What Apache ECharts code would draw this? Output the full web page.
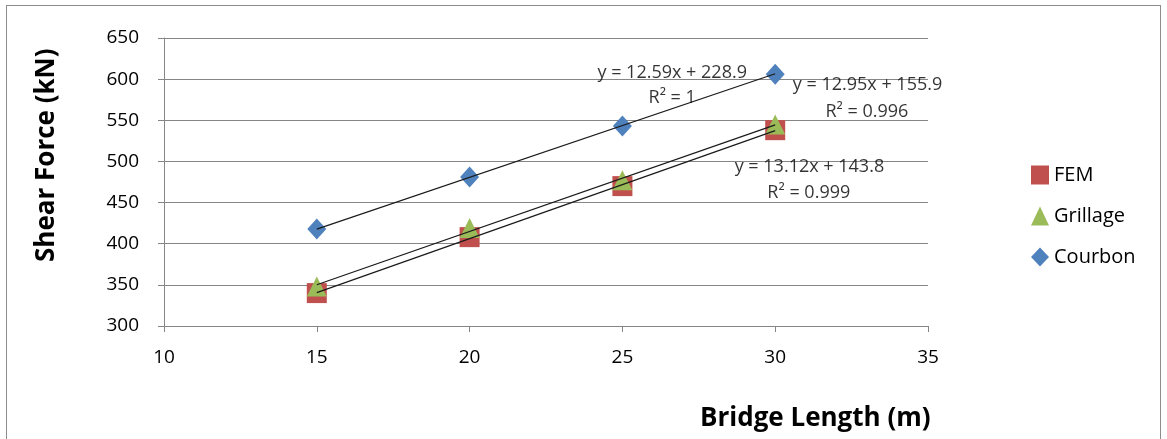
<!DOCTYPE html>
<html>
<head>
<meta charset="utf-8">
<script src="https://cdn.jsdelivr.net/npm/echarts@6/dist/echarts.min.js"></script>
<style>
  body { margin: 0; background: #fff; }
  .frame { position: absolute; left: 6px; top: 5px; width: 1153px; height: 450px; border: 1px solid #8c8c8c; }
  #chart { position: absolute; left: 0; top: 0; width: 1167px; height: 439px; }
</style>
</head>
<body>
<div class="frame"></div>
<div id="chart"></div>
<script>
// bridge lengths (m)
var lengths = [15, 20, 25, 30]
// shear force (kN)
var fem = [340, 408, 470, 538]
var grillage = [348, 419, 477, 545]
var courbon = [418, 481, 543, 606]
// trend line coefficients as printed on the chart: [slope, intercept]
var femFit = [13.12, 143.8]
var grillageFit = [12.95, 155.9]
var courbonFit = [12.59, 228.9]
// equation labels: [x, y, text]
var eqLabels = [
  [26.63, 607.5, 'y = 12.59x + 228.9'],
  [26.63, 577, 'R² = 1'],
  [33.02, 593, 'y = 12.95x + 155.9'],
  [33.0, 560, 'R² = 0.996'],
  [31.12, 493, 'y = 13.12x + 143.8'],
  [31.1, 461.5, 'R² = 0.999']
]

function pairs (ys) {
  return lengths.map(function (x, i) { return [x, ys[i]] })
}
function trend (fit) {
  var x0 = lengths[0]
  var x1 = lengths[lengths.length - 1]
  return [[x0, fit[0] * x0 + fit[1]], [x1, fit[0] * x1 + fit[1]]]
}

var font = '"Open Sans", "Liberation Sans", sans-serif'
var myChart = echarts.init(document.getElementById('chart'))

var lineStyle = { color: '#1a1a1a', width: 1.2 }
var option = {
  animation: false,
  textStyle: { fontFamily: font },
  grid: { left: 164, top: 38, width: 764, height: 288 },
  legend: {
    data: ['FEM', 'Grillage', 'Courbon'],
    orient: 'vertical',
    left: 1026,
    top: 160,
    itemGap: 21,
    itemWidth: 18,
    itemHeight: 19,
    textStyle: { fontSize: 20, color: '#000', fontFamily: font }
  },
  // axis titles sit off-centre in the original, so they are placed by hand
  graphic: [
    {
      type: 'text',
      left: 700,
      top: 406,
      style: { text: 'Bridge Length (m)', font: 'bold 26px "Open Sans", sans-serif', fill: '#000' }
    },
    {
      type: 'text',
      x: 34,
      y: 262,
      rotation: Math.PI / 2,
      style: { text: 'Shear Force (kN)', font: 'bold 26px "Open Sans", sans-serif', fill: '#000' }
    }
  ],
  xAxis: {
    type: 'value',
    min: 10,
    max: 35,
    interval: 5,
    axisLine: { lineStyle: { color: '#868686' } },
    axisTick: { show: true, length: 6, lineStyle: { color: '#868686' } },
    axisLabel: { fontSize: 19, color: '#000', margin: 22 },
    splitLine: { show: false }
  },
  yAxis: {
    type: 'value',
    min: 300,
    max: 650,
    interval: 50,
    axisLine: { show: true, lineStyle: { color: '#868686' } },
    axisTick: { show: true, length: 6, lineStyle: { color: '#868686' } },
    axisLabel: { fontSize: 19, color: '#000', margin: 25 },
    splitLine: { lineStyle: { color: '#868686', width: 1 } }
  },
  series: [
    {
      name: 'FEM',
      type: 'scatter',
      symbol: 'rect',
      symbolSize: 20,
      itemStyle: { color: '#C0504D', opacity: 1 },
      data: pairs(fem),
      z: 3
    },
    {
      name: 'Grillage',
      type: 'scatter',
      symbol: 'triangle',
      symbolSize: [20, 20],
      itemStyle: { color: '#9BBB59', opacity: 1 },
      data: pairs(grillage),
      z: 4
    },
    {
      name: 'Courbon',
      type: 'scatter',
      symbol: 'diamond',
      symbolSize: [19, 21],
      itemStyle: { color: '#4F81BD', opacity: 1 },
      data: pairs(courbon),
      z: 4
    },
    { name: 'femTrend', type: 'line', data: trend(femFit), symbol: 'none', lineStyle: lineStyle, z: 5, silent: true },
    { name: 'grillageTrend', type: 'line', data: trend(grillageFit), symbol: 'none', lineStyle: lineStyle, z: 5, silent: true },
    { name: 'courbonTrend', type: 'line', data: trend(courbonFit), symbol: 'none', lineStyle: lineStyle, z: 5, silent: true },
    {
      name: 'labels',
      type: 'scatter',
      symbolSize: 0,
      silent: true,
      z: 6,
      data: eqLabels,
      label: {
        show: true,
        position: 'inside',
        formatter: function (p) { return p.data[2] },
        fontSize: 18,
        color: '#000',
        fontFamily: font
      }
    }
  ]
}
myChart.setOption(option)
</script>
</body>
</html>
